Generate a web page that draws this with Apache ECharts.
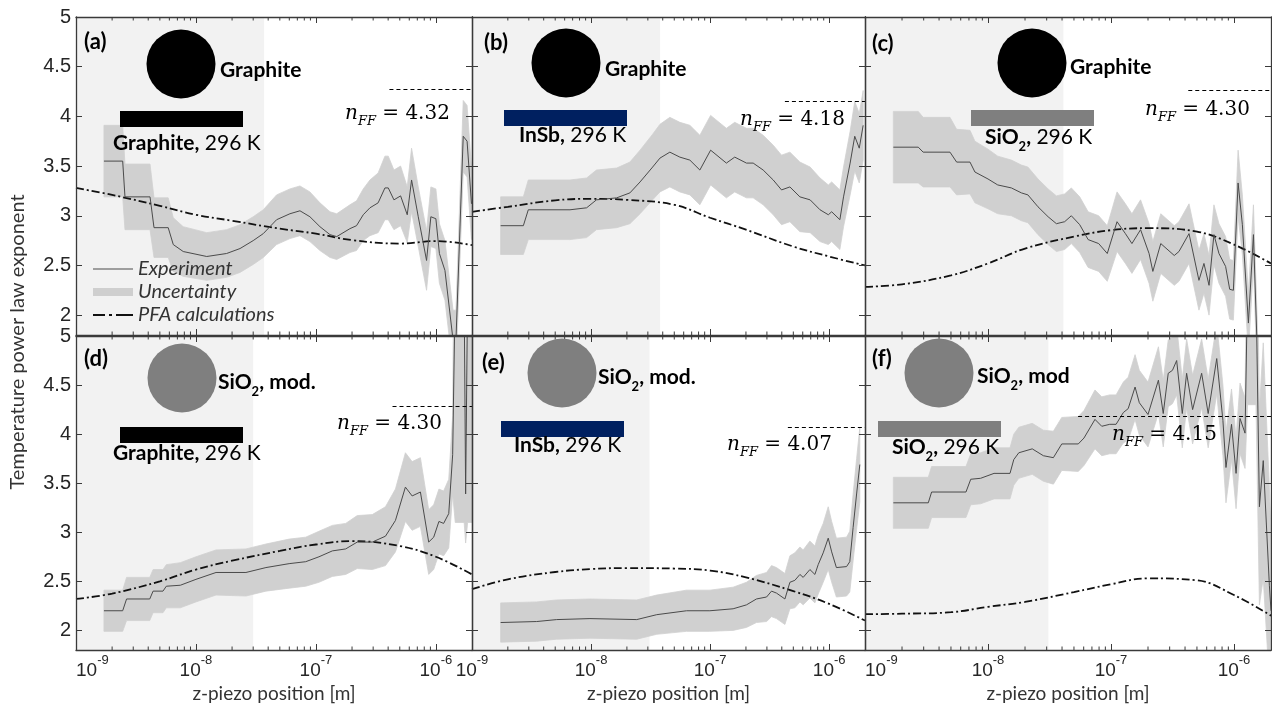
<!DOCTYPE html>
<html><head><meta charset="utf-8">
<script src="https://cdn.jsdelivr.net/npm/echarts@6/dist/echarts.min.js"></script>
<style>html,body{margin:0;padding:0;background:#fff}#c{width:1272px;height:704px}</style>
</head><body><div id="c"></div>
<script>
// ---------- data (z-piezo position in metres, exponent values) ----------
const xA = [1.71e-9,2.45e-9,2.56e-9,4.14e-9,4.47e-9,5.87e-9,6.47e-9,7.83e-9,1.23e-8,1.80e-8,
            2.33e-8,3.0e-8,3.64e-8,4.70e-8,6.07e-8,7.36e-8,8.91e-8,1.08e-7,1.31e-7,1.49e-7,
            1.92e-7,2.18e-7,2.48e-7,2.82e-7,3.30e-7,3.76e-7,4.01e-7,4.47e-7,5.08e-7,5.77e-7,
            6.27e-7,7.13e-7,8.36e-7,9.08e-7,1.0e-6,1.07e-6,1.19e-6,1.39e-6,1.47e-6,1.69e-6,
            1.82e-6,1.98e-6];
const expA = [3.55,3.55,3.19,3.19,2.88,2.88,2.71,2.64,2.59,2.62,
              2.67,2.75,2.82,2.96,3.02,3.05,2.99,2.89,2.81,2.79,
              2.87,2.90,3.01,3.08,3.13,3.28,3.28,3.16,3.20,3.01,
              3.36,2.99,2.55,2.99,2.97,2.62,2.45,1.75,1.75,3.80,
              3.75,3.12];
const uncA = [0.36,0.36,0.33,0.33,0.30,0.30,0.27,0.25,0.24,0.24,
              0.24,0.24,0.24,0.25,0.25,0.25,0.25,0.24,0.23,0.23,
              0.24,0.25,0.26,0.28,0.30,0.32,0.32,0.30,0.30,0.28,
              0.32,0.30,0.30,0.30,0.30,0.30,0.30,0.30,0.30,0.36,
              0.36,0.36];

const xB = [1.74e-9,2.70e-9,2.97e-9,6.65e-9,9.18e-9,1.11e-8,1.64e-8,2.12e-8,2.58e-8,3.29e-8,
            3.79e-8,4.59e-8,5.57e-8,6.76e-8,8.20e-8,1.01e-7,1.37e-7,1.61e-7,2.02e-7,2.30e-7,
            2.79e-7,3.39e-7,3.98e-7,4.68e-7,5.68e-7,6.92e-7,8.38e-7,9.84e-7,1.05e-6,1.23e-6,
            1.32e-6,1.50e-6,1.64e-6,1.79e-6,1.93e-6];
const expB = [2.90,2.90,3.06,3.06,3.08,3.16,3.18,3.23,3.34,3.49,
              3.58,3.64,3.59,3.56,3.46,3.66,3.53,3.59,3.53,3.53,
              3.46,3.36,3.26,3.29,3.19,3.16,3.06,3.01,3.04,2.96,
              3.19,3.53,3.80,3.68,3.91];
const uncB = [0.29,0.29,0.30,0.30,0.30,0.30,0.30,0.31,0.32,0.33,
              0.34,0.35,0.35,0.35,0.35,0.35,0.35,0.35,0.35,0.35,
              0.35,0.35,0.35,0.35,0.35,0.33,0.32,0.30,0.30,0.30,
              0.30,0.32,0.35,0.35,0.35];

const xC = [1.70e-9,2.71e-9,2.97e-9,4.91e-9,5.56e-9,7.14e-9,7.83e-9,1.0e-8,1.20e-8,1.55e-8,
            1.87e-8,2.11e-8,2.55e-8,3.08e-8,3.60e-8,4.20e-8,4.76e-8,5.57e-8,6.52e-8,7.94e-8,
            9.33e-8,1.12e-7,1.31e-7,1.48e-7,1.74e-7,2.04e-7,2.19e-7,2.54e-7,3.27e-7,3.57e-7,
            4.31e-7,5.19e-7,5.70e-7,6.27e-7,6.87e-7,7.55e-7,8.55e-7,9.23e-7,9.89e-7,1.08e-6,
            1.17e-6,1.31e-6,1.44e-6,1.55e-6];
const expC = [3.69,3.69,3.64,3.64,3.54,3.54,3.44,3.37,3.31,3.28,
              3.23,3.21,3.09,2.99,2.92,2.94,3.00,2.91,2.76,2.72,
              2.62,2.94,2.82,2.72,2.86,2.62,2.44,2.72,2.60,2.64,
              2.82,2.35,2.52,2.30,2.81,2.62,2.49,2.26,2.25,3.33,
              2.91,1.92,2.81,1.60];
const uncC = [0.36,0.36,0.35,0.35,0.33,0.32,0.31,0.30,0.29,0.28,
              0.28,0.28,0.28,0.28,0.28,0.28,0.28,0.28,0.28,0.28,
              0.28,0.30,0.30,0.30,0.30,0.30,0.30,0.30,0.30,0.30,
              0.30,0.30,0.30,0.30,0.30,0.30,0.30,0.30,0.30,0.33,
              0.30,0.30,0.30,0.30];

const xD = [1.71e-9,2.45e-9,2.64e-9,4.12e-9,4.39e-9,5.31e-9,5.66e-9,7.41e-9,1.0e-8,1.47e-8,
            2.61e-8,3.83e-8,5.98e-8,8.22e-8,1.06e-7,1.37e-7,1.77e-7,2.21e-7,2.95e-7,3.80e-7,
            4.60e-7,5.57e-7,6.34e-7,7.43e-7,8.71e-7,9.59e-7,1.06e-6,1.16e-6,1.28e-6,1.38e-6,
            1.45e-6,1.72e-6,1.77e-6,1.84e-6,2.0e-6];
const expD = [2.20,2.20,2.32,2.32,2.40,2.40,2.45,2.46,2.52,2.59,
              2.59,2.64,2.68,2.70,2.75,2.81,2.83,2.90,2.90,2.96,
              3.12,3.46,3.37,3.41,2.90,2.95,3.11,3.09,3.19,3.79,
              5.50,5.50,3.39,5.50,5.50];
const uncD = [0.21,0.21,0.22,0.22,0.22,0.22,0.22,0.23,0.23,0.23,
              0.24,0.24,0.25,0.25,0.26,0.26,0.26,0.27,0.28,0.30,
              0.32,0.35,0.35,0.35,0.33,0.33,0.33,0.33,0.35,0.40,
              2.40,2.40,0.50,2.40,2.40];

const xE = [1.74e-9,3.49e-9,5.14e-9,9.79e-9,2.42e-8,3.56e-8,6.34e-8,9.95e-8,1.56e-7,2.02e-7,
            2.45e-7,2.98e-7,3.28e-7,3.61e-7,4.25e-7,4.68e-7,5.15e-7,5.68e-7,6.05e-7,6.89e-7,
            7.59e-7,8.09e-7,8.91e-7,9.82e-7,1.05e-6,1.15e-6,1.40e-6,1.49e-6,1.59e-6,1.70e-6,
            1.81e-6];
const expE = [2.08,2.09,2.11,2.12,2.11,2.16,2.20,2.20,2.22,2.26,
              2.32,2.34,2.40,2.38,2.32,2.49,2.51,2.57,2.54,2.62,
              2.57,2.67,2.79,2.94,2.80,2.64,2.65,2.70,3.05,3.39,
              3.69];
const uncE = [0.20,0.20,0.20,0.20,0.20,0.20,0.21,0.21,0.22,0.23,
              0.24,0.25,0.26,0.26,0.26,0.27,0.28,0.28,0.28,0.29,
              0.29,0.30,0.30,0.32,0.31,0.30,0.30,0.31,0.34,0.36,
              0.38];

const xF = [1.70e-9,3.27e-9,3.48e-9,6.62e-9,7.24e-9,8.71e-9,1.12e-8,1.51e-8,1.62e-8,1.78e-8,
            2.29e-8,2.82e-8,3.40e-8,3.98e-8,5.42e-8,6.03e-8,7.41e-8,8.41e-8,9.77e-8,1.10e-7,
            1.26e-7,1.38e-7,1.57e-7,1.70e-7,2.0e-7,2.43e-7,2.66e-7,2.92e-7,3.16e-7,3.42e-7,
            3.80e-7,4.12e-7,4.61e-7,5.46e-7,6.17e-7,7.24e-7,8.13e-7,8.61e-7,9.55e-7,1.04e-6,
            1.12e-6,1.23e-6,1.29e-6,1.51e-6,1.61e-6,1.73e-6,1.94e-6,2.0e-6];
const expF = [3.30,3.30,3.41,3.41,3.54,3.55,3.60,3.60,3.74,3.81,
              3.85,3.78,3.76,3.90,3.90,3.96,4.15,4.08,4.10,4.10,
              4.22,4.26,4.48,4.32,4.20,4.55,4.21,4.62,4.65,4.75,
              4.21,4.62,4.25,4.62,4.21,4.77,4.14,3.66,4.10,3.60,
              4.16,4.01,5.50,5.50,3.26,3.73,2.46,2.20];
const uncF = [0.26,0.26,0.26,0.26,0.26,0.26,0.26,0.26,0.26,0.26,
              0.26,0.26,0.27,0.27,0.28,0.28,0.30,0.30,0.30,0.30,
              0.31,0.32,0.33,0.33,0.33,0.34,0.34,0.34,0.34,0.35,
              0.35,0.35,0.35,0.35,0.35,0.36,0.36,0.36,0.36,0.36,
              0.36,0.36,1.20,1.20,1.00,1.20,1.00,0.80];

const pfaX = [1e-9,2e-9,5e-9,1e-8,2e-8,5e-8,1e-7,2e-7,5e-7,1e-6,2e-6];
const pfaA = [3.28,3.21,3.10,3.01,2.95,2.87,2.82,2.755,2.72,2.745,2.705];
const pfaB = [3.04,3.09,3.155,3.17,3.16,3.11,2.98,2.86,2.69,2.59,2.50];
const pfaC = [2.285,2.31,2.40,2.52,2.67,2.79,2.855,2.875,2.84,2.71,2.52];
const pfaD = [2.32,2.375,2.50,2.62,2.71,2.81,2.875,2.91,2.86,2.75,2.57];
const pfaE = [2.42,2.52,2.595,2.625,2.635,2.63,2.61,2.54,2.40,2.27,2.10];
const pfaF = [2.165,2.17,2.185,2.24,2.29,2.39,2.47,2.53,2.51,2.36,2.15];

const nffLabel = ['4.32','4.18','4.30','4.30','4.07','4.15'];
const nffLevel = [4.27,4.15,4.26,4.28,4.07,4.18];
const nffStart = [4.1e-7,4.25e-7,4.25e-7,4.35e-7,4.5e-7,5.4e-8];
const shadeEnd = [3.7e-8,3.8e-8,4.1e-8,3.0e-8,3.1e-8,3.1e-8];
const panelLabels = ['(a)','(b)','(c)','(d)','(e)','(f)'];
const yTicks = [2,2.5,3,3.5,4,4.5,5];
const X_MIN = 1e-9, X_MAX = 2e-6, Y_MIN = 1.8, Y_MAX = 5;

const expX = [xA,xB,xC,xD,xE,xF];
const expY = [expA,expB,expC,expD,expE,expF];
const expU = [uncA,uncB,uncC,uncD,uncE,uncF];
const pfaY = [pfaA,pfaB,pfaC,pfaD,pfaE,pfaF];

// minor tick positions of the log axis (2..9 x 10^n)
const minorTickValues = [];
for (let e = -9; e <= -6; e++) for (let k = 2; k <= 9; k++) {
  const v = k * Math.pow(10, e); if (v < X_MAX) minorTickValues.push(v);
}

// ---------- layout ----------
const grids = [
  {left:76, top:17, width:396, height:318},
  {left:472, top:17, width:393, height:318},
  {left:865, top:17, width:406, height:318},
  {left:76, top:336, width:396, height:319},
  {left:472, top:336, width:393, height:319},
  {left:865, top:336, width:406, height:319}
];
const AX = '#3a3a3a', TXT = '#262626', BAND = '#d0d0d0';
const xAxes = [], yAxes = [], series = [];
grids.forEach((g, i) => {
  const bottomRow = i >= 3;
  const baseX = {type:'log', logBase:10, min:X_MIN, max:X_MAX, gridIndex:i, z:10,
    axisLine:{show:true, lineStyle:{color:AX, width:1.3}},
    axisTick:{show:true, inside:true, length:6, lineStyle:{color:AX, width:1}},
    splitLine:{show:false}};
  xAxes.push(Object.assign({}, baseX, {position:'bottom',
    name: bottomRow ? 'z-piezo position [m]' : '', nameLocation:'middle', nameGap:34,
    nameTextStyle:{fontFamily:'Lato', fontSize:19, color:'#333'},
    axisLabel: bottomRow ? {show:true, margin:4, showMaxLabel:false,
      alignMinLabel: i === 4 ? 'center' : 'left',
      formatter: v => '{b|10}{s|' + Math.round(Math.log10(v)) + '}',
      rich:{b:{fontSize:19, fontFamily:'Liberation Sans', color:TXT, lineHeight:26, verticalAlign:'bottom'},
            s:{fontSize:13, fontFamily:'Liberation Sans', color:TXT, lineHeight:12, verticalAlign:'top'}}}
      : {show:false}}));
  xAxes.push(Object.assign({}, baseX, {position:'top', axisLabel:{show:false}}));
  const baseY = {type:'value', min:Y_MIN, max:Y_MAX, gridIndex:i, z:10,
    axisLine:{show:true, lineStyle:{color:AX, width:1.3}},
    axisTick:{show:true, inside:true, length:6, customValues:yTicks, lineStyle:{color:AX, width:1}},
    splitLine:{show:false}};
  yAxes.push(Object.assign({}, baseY, {position:'left',
    axisLabel: (i % 3 === 0) ? {show:true, customValues:yTicks, margin:5, fontSize:20,
      fontFamily:'Liberation Sans', color:TXT} : {show:false}}));
  yAxes.push(Object.assign({}, baseY, {position:'right', axisLabel:{show:false}}));

  const xi = 2 * i, yi = 2 * i;
  const xs = expX[i], ys = expY[i], us = expU[i];
  // shaded near-field region (hosted by an invisible helper series)
  series.push({name:'_shade' + i, type:'line', xAxisIndex:xi, yAxisIndex:yi,
    data: [[xs[0], ys[0]]], symbol:'none', silent:true, z:1, lineStyle:{opacity:0, width:0},
    markArea:{silent:true, itemStyle:{color:'#f2f2f2'},
      data:[[{xAxis:X_MIN}, {xAxis:shadeEnd[i]}]]}});
  // uncertainty band: polygon through (x, y+u) then back through (x, y-u)
  series.push({name:'Uncertainty', type:'custom', xAxisIndex:xi, yAxisIndex:yi, silent:true,
    z:2, clip:true, color:BAND, encode:{x:0, y:[1,2]},
    data: xs.map((v, k) => [v, ys[k] - us[k], ys[k] + us[k]]),
    renderItem: (params, api) => {
      if (params.dataIndexInside !== 0) return null;
      const n = params.dataInsideLength, pts = [];
      for (let k = 0; k < n; k++) pts.push(api.coord([api.value(0, k), api.value(2, k)]));
      for (let k = n - 1; k >= 0; k--) pts.push(api.coord([api.value(0, k), api.value(1, k)]));
      return {type:'polygon', shape:{points:pts}, style:{fill:BAND, stroke:BAND, lineWidth:0.8}};
    }});
  series.push({name:'PFA calculations', type:'line', xAxisIndex:xi, yAxisIndex:yi,
    data: pfaX.map((v, k) => [v, pfaY[i][k]]), smooth:0.4, symbol:'none', z:3, color:'#111',
    lineStyle:{color:'#111', width:1.8, type:[8,3,2,3]},
    markLine:{silent:true, symbol:'none', label:{show:false},
      lineStyle:{color:'#000', width:1, type:[4,3]},
      data:[[{coord:[nffStart[i], nffLevel[i]]}, {coord:[X_MAX, nffLevel[i]]}]]}});
  series.push({name:'Experiment', type:'line', xAxisIndex:xi, yAxisIndex:yi,
    data: xs.map((v, k) => [v, ys[k]]), symbol:'none', z:4, color:'#4a4a4a',
    lineStyle:{color:'#4a4a4a', width:1}});
  series.push({name:'_ticks' + i, type:'custom', xAxisIndex:xi, yAxisIndex:yi, silent:true,
    z:11, clip:false, data: minorTickValues.map(v => [v, 3]),
    renderItem: (params, api) => {
      const cs = params.coordSys;
      const px = api.coord([api.value(0), 3])[0];
      const yb = cs.y + cs.height, yt = cs.y;
      return {type:'group', children:[
        {type:'line', shape:{x1:px, y1:yb, x2:px, y2:yb - 3.5}, style:{stroke:AX, lineWidth:1}},
        {type:'line', shape:{x1:px, y1:yt, x2:px, y2:yt + 3.5}, style:{stroke:AX, lineWidth:1}}]};
    }});
});

// ---------- annotations ----------
const NAVY = '#002060', GREY = '#7f7f7f', GREYTXT = '#8c8c8c';
const boldTxt = (x, y, text, color, size) => ({type:'text', x, y, z:20,
  style:{text, fill:color, font:'bold ' + (size || 21) + 'px Lato', verticalAlign:'middle'}});
const richTxt = (x, y, text, rich) => ({type:'text', x, y, z:20,
  style:{text, rich, verticalAlign:'middle'}});
const FS = 21;
const baseRich = {
  gb:{fontFamily:'Lato', fontWeight:'bold', fontSize:FS, color:'#000', lineHeight:26, verticalAlign:'top'},
  nb:{fontFamily:'Lato', fontWeight:'bold', fontSize:FS, color:NAVY, lineHeight:26, verticalAlign:'top'},
  sb:{fontFamily:'Lato', fontWeight:'bold', fontSize:FS, color:GREYTXT, lineHeight:26, verticalAlign:'top'},
  ss:{fontFamily:'Lato', fontWeight:'bold', fontSize:13, color:GREYTXT, lineHeight:11, verticalAlign:'bottom'},
  r:{fontFamily:'Lato', fontSize:FS, color:'#222', lineHeight:26, verticalAlign:'top'},
  rb:{fontFamily:'Lato', fontWeight:'bold', fontSize:FS, color:'#222', lineHeight:26, verticalAlign:'top'}
};
const nffRich = {
  n:{fontFamily:'DejaVu Serif', fontStyle:'italic', fontSize:20, color:'#111', lineHeight:24, verticalAlign:'top'},
  s:{fontFamily:'DejaVu Serif', fontStyle:'italic', fontSize:13, color:'#111', lineHeight:10, verticalAlign:'bottom'},
  v:{fontFamily:'DejaVu Serif', fontSize:20, color:'#111', lineHeight:24, verticalAlign:'top'}
};
const circle = (cx, cy, fill) => ({type:'circle', z:20, shape:{cx, cy, r:34.5}, style:{fill}});
const bar = (x, y, fill) => ({type:'rect', z:20, shape:{x, y, width:123, height:16}, style:{fill}});
const nffPos = [[345,116],[740,122],[1145,112],[337,426],[727,447],[1112,437]];
const labelPos = [[84,42],[484,43],[872,44],[84,359],[482,363],[872,359]];

const graphic = [];
panelLabels.forEach((t, i) => graphic.push(boldTxt(labelPos[i][0], labelPos[i][1], t, '#000', 22)));
nffLabel.forEach((t, i) => graphic.push(richTxt(nffPos[i][0], nffPos[i][1],
  '{n|n}{s|FF}{v| = ' + t + '}', nffRich)));
graphic.push(
  circle(181, 64, '#000'), boldTxt(220, 70, 'Graphite', '#000'),
  bar(120, 111, '#000'), richTxt(113, 146, '{gb|Graphite,}{r| 296 K}', baseRich),
  circle(566, 63, '#000'), boldTxt(605, 69, 'Graphite', '#000'),
  bar(504, 110, NAVY), richTxt(519, 138, '{nb|InSb}{rb|,}{r| 296 K}', baseRich),
  circle(1032, 63, '#000'), boldTxt(1070, 67, 'Graphite', '#000'),
  bar(971, 110, GREY), richTxt(985, 140, '{sb|SiO}{ss|2}{rb|,}{r| 296 K}', baseRich),
  circle(182, 378, GREY), richTxt(218, 385, '{sb|SiO}{ss|2}{sb|, mod.}', baseRich),
  bar(120, 427, '#000'), richTxt(113, 456, '{gb|Graphite,}{r| 296 K}', baseRich),
  circle(562, 373, GREY), richTxt(598, 380, '{sb|SiO}{ss|2}{sb|, mod.}', baseRich),
  bar(501, 421, NAVY), richTxt(514, 448, '{nb|InSb}{rb|,}{r| 296 K}', baseRich),
  circle(939, 373, GREY), richTxt(977, 379, '{sb|SiO}{ss|2}{sb|, mod}', baseRich),
  bar(878, 421, GREY), richTxt(892, 450, '{sb|SiO}{ss|2}{rb|,}{r| 296 K}', baseRich),
  {type:'text', x:18, y:342, rotation:Math.PI / 2, z:20,
   style:{text:'Temperature power law exponent', font:'20px Lato', fill:'#333',
          align:'center', verticalAlign:'middle'}}
);

const chart = echarts.init(document.getElementById('c'));
chart.setOption({
  animation:false,
  backgroundColor:'#fff',
  textStyle:{fontFamily:'Lato'},
  grid: grids,
  xAxis: xAxes,
  yAxis: yAxes,
  legend:{left:88, top:254, orient:'vertical', itemWidth:40, itemHeight:10, itemGap:3,
    selectedMode:false,
    textStyle:{fontFamily:'Lato', fontStyle:'italic', fontSize:20, color:'#333'},
    data:[
      {name:'Experiment', icon:'path://M0,0H40V1.2H0Z', itemStyle:{color:'#4a4a4a', borderWidth:0}},
      {name:'Uncertainty', icon:'path://M0,0H40V8H0Z', itemStyle:{color:'#cfcfcf', borderWidth:0}},
      {name:'PFA calculations', icon:'path://M0,0H12V2H0ZM16,0H19V2H16ZM23,0H40V2H23Z', itemStyle:{color:'#111', borderWidth:0}}
    ]},
  graphic: graphic,
  series: series
});
</script></body></html>
